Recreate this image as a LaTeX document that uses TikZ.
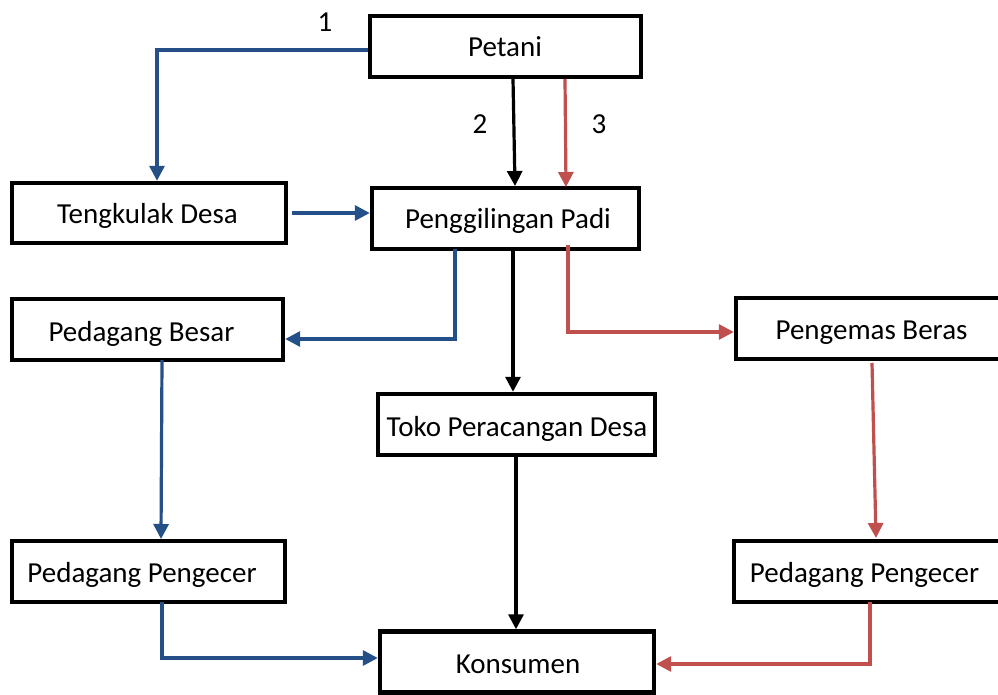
\documentclass[tikz,border=0pt]{standalone}
\usepackage{fontspec}
\setmainfont{Carlito}
\usetikzlibrary{arrows.meta}
\definecolor{flowblue}{RGB}{37,79,135}
\definecolor{flowred}{RGB}{192,80,77}
\begin{document}
\begin{tikzpicture}[x=1pt,y=-1pt,
  box/.style={draw=black,line width=4.4pt,inner sep=0pt,fill=white},
  lbl/.style={anchor=base,inner sep=0pt,font=\fontsize{29}{34}\selectfont},
  conn/.style={line width=3.2pt,-{Triangle[length=15pt,width=15pt]}},
  bl/.style={conn,draw=flowblue},
  rd/.style={conn,draw=flowred},
  bk/.style={conn,draw=black}]
\clip (0,0) rectangle (998,695);
\fill[white] (0,0) rectangle (998,695);
% boxes
\node[box,minimum width=271pt,minimum height=61pt] (pet) at (505.5,46.5) {};
\node[box,minimum width=274pt,minimum height=60pt] (tk) at (149,213) {};
\node[box,minimum width=267pt,minimum height=61pt] (pg) at (505.5,218.5) {};
\node[box,minimum width=271pt,minimum height=61pt] (pb) at (147.5,329.5) {};
\node[box,minimum width=290pt,minimum height=61pt] (pm) at (881,328.5) {};
\node[box,minimum width=277pt,minimum height=61pt] (tp) at (516.5,424.5) {};
\node[box,minimum width=273pt,minimum height=61pt] (ppl) at (148.5,571.5) {};
\node[box,minimum width=290pt,minimum height=61pt] (ppr) at (879,571.5) {};
\node[box,minimum width=274pt,minimum height=61pt] (ks) at (517,662) {};
% texts
\node[lbl] (tpet) at (505,57) {Petani};
\node[lbl] (ttk) at (147.5,223) {Tengkulak Desa};
\node[lbl] (tpg) at (508,229) {Penggilingan Padi};
\node[lbl] (tpb) at (141.5,341) {Pedagang Besar};
\node[lbl] (tpm) at (871.5,339) {Pengemas Beras};
\node[lbl] (ttp) at (517,436) {Toko Peracangan Desa};
\node[lbl] (tppl) at (142,582) {Pedagang Pengecer};
\node[lbl] (tppr) at (864.5,582) {Pedagang Pengecer};
\node[lbl] (tks) at (518,673) {Konsumen};
\node[lbl] (n1) at (325,32) {1};
\node[lbl] (n2) at (480,134) {2};
\node[lbl] (n3) at (599,134) {3};
% coordinates
\coordinate (c1) at (157,50);
\coordinate (c2) at (455,339);
\coordinate (c3) at (568,332);
\coordinate (c4) at (162,658);
\coordinate (c5) at (870,664);
% connectors
\draw[bl] (pet.west |- c1) -- (c1) -- (c1 |- tk.north);
\draw[bl] ([xshift=4pt]tk.east) -- (pg.west |- tk.east);
\draw[bk] (513,79) -- (515,186);
\draw[rd] (565,79) -- (566,187);
\draw[bl] ([yshift=2pt]pg.south -| c2) -- (c2) -- (pb.east |- c2);
\draw[bk] (pg.south -| 513,0) -- (tp.north -| 513,0);
\draw[rd] ([yshift=6pt]pg.south -| c3) -- (c3) -- (pm.west |- c3);
\draw[bl] ([yshift=2pt]pb.south -| 162,0) -- (161,539);
\draw[rd] (872,363) -- (876,538);
\draw[bk] ([yshift=2pt]tp.south -| 516,0) -- (ks.north -| 516,0);
\draw[bl] ([yshift=2pt]ppl.south -| c4) -- (c4) -- (ks.west |- c4);
\draw[rd] ([yshift=2pt]ppr.south -| c5) -- (c5) -- (ks.east |- c5);
\end{tikzpicture}
\end{document}
